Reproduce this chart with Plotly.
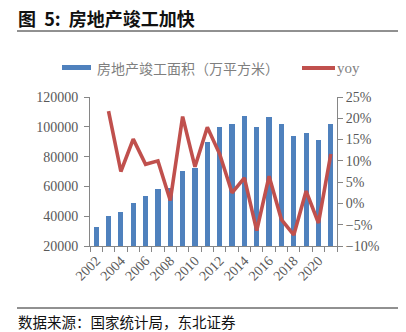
import plotly.graph_objects as go

years = list(range(2002, 2022))
area = [33000, 40200, 42900, 49100, 53600, 58300, 58800, 70400, 72600, 89700,
        99600, 101800, 107400, 100000, 106500, 101800, 94000, 95800, 91300, 101800]
yoy_years = list(range(2003, 2022))
yoy = [21.7, 7.5, 15.1, 9.2, 10.0, 0.7, 20.4, 8.6, 17.9, 11.6,
       2.5, 6.0, -6.4, 6.4, -3.8, -7.4, 2.9, -4.6, 11.6]
xtick_vals = list(range(2002, 2021, 2))
title_text = "图  5:  房地产竣工加快"
legend_bar = "房地产竣工面积（万平方米）"
legend_line = "yoy"
source_text = "数据来源：国家统计局，东北证券"

W, H = 406, 332
L, R, T, B = 90, 337, 97, 246
def px(x):
    return (x - L) / (R - L)
def py(y):
    return (B - y) / (B - T)

BLUE = "#4F81BD"
RED = "#C0504D"
GRAY = "#595959"
AX = "#868686"
SERIF = "Liberation Serif, Times New Roman, serif"
CJK = "Noto Sans CJK SC, sans-serif"

fig = go.Figure()
fig.add_trace(go.Bar(x=years, y=area, width=0.42, marker_color=BLUE,
                     marker_line_width=0, name=legend_bar, yaxis="y"))
fig.add_trace(go.Scatter(x=yoy_years, y=yoy, mode="lines", line=dict(color=RED, width=3.6),
                         name=legend_line, yaxis="y2"))

fig.update_layout(
    width=W, height=H,
    margin=dict(l=L, r=W - R, t=T, b=H - B),
    paper_bgcolor="white", plot_bgcolor="white",
    showlegend=False,
    bargap=0,
    xaxis=dict(range=[2001.5, 2021.5], tickvals=xtick_vals, ticks="", tickangle=-45,
               showline=True, linecolor=AX, linewidth=1, showgrid=False, zeroline=False,
               tickfont=dict(family=SERIF, size=14, color=GRAY),
               minor=dict(ticks="outside", ticklen=5, tick0=2001.5, dtick=1, tickcolor=AX, showgrid=False)),
    yaxis=dict(range=[20000, 120000], dtick=20000, tick0=20000, tickformat="d",
               showgrid=False, zeroline=False,
               showline=True, linecolor=AX, ticks="outside", ticklen=5, tickcolor=AX,
               tickfont=dict(family=SERIF, size=14, color=GRAY), ticklabelstandoff=3),
    yaxis2=dict(range=[-10, 25], dtick=5, tick0=-10, overlaying="y", side="right",
                showgrid=False, zeroline=False, showline=True, linecolor=AX,
                ticks="outside", ticklen=5, tickcolor=AX, ticksuffix="%",
                tickfont=dict(family=SERIF, size=14, color=GRAY)),
)

shapes = [
    dict(type="line", xref="paper", yref="paper", x0=px(17), x1=px(398), y0=py(31), y1=py(31),
         line=dict(color="#222222", width=1)),
    dict(type="line", xref="paper", yref="paper", x0=px(17), x1=px(398), y0=py(308), y1=py(308),
         line=dict(color="#222222", width=1)),
    dict(type="rect", xref="paper", yref="paper", x0=px(62), x1=px(91), y0=py(70), y1=py(65),
         fillcolor=BLUE, line=dict(width=0)),
    dict(type="line", xref="paper", yref="paper", x0=px(302), x1=px(335), y0=py(68), y1=py(68),
         line=dict(color=RED, width=3.8)),
]
annotations = [
    dict(text="<b>" + title_text + "</b>", xref="paper", yref="paper", x=px(16), y=py(18),
         xanchor="left", yanchor="middle", showarrow=False,
         font=dict(family=CJK, size=18, color="#111111")),
    dict(text=legend_bar, xref="paper", yref="paper", x=px(95), y=py(68),
         xanchor="left", yanchor="middle", showarrow=False,
         font=dict(family=CJK, size=14, color="#7f7f7f")),
    dict(text=legend_line, xref="paper", yref="paper", x=px(335), y=py(68),
         xanchor="left", yanchor="middle", showarrow=False,
         font=dict(family=SERIF, size=15, color="#7f7f7f")),
    dict(text=source_text, xref="paper", yref="paper", x=px(16), y=py(321),
         xanchor="left", yanchor="middle", showarrow=False,
         font=dict(family=CJK, size=14.5, color="#111111")),
]
fig.update_layout(shapes=shapes, annotations=annotations)
fig.write_html("out.html")
